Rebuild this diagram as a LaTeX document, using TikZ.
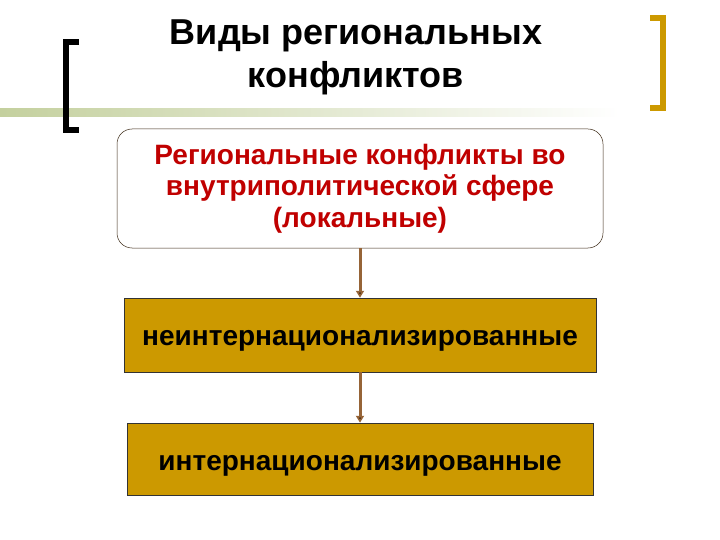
\documentclass[tikz,border=0pt]{standalone}
\usepackage{fontspec}
\setmainfont{Liberation Sans}
\usepackage{tikz}
\usetikzlibrary{arrows.meta,positioning,shapes}
\definecolor{gold}{RGB}{204,153,0}
\definecolor{darkred}{RGB}{192,0,0}
\definecolor{arrbrown}{RGB}{150,100,55}
\definecolor{olive}{RGB}{196,208,158}
\tikzset{every picture/.style={line width=0.5pt}}
\tikzstyle{topbox}=[draw=black!70!brown,fill=white,rounded corners=15pt,
  minimum width=486pt,minimum height=119pt,inner sep=0pt,align=center,
  text=darkred,font=\fontsize{28}{31.5}\selectfont\bfseries]
\tikzstyle{goldbox}=[draw=black!80,fill=gold,inner sep=0pt,text depth=0pt,
  font=\fontsize{28}{30}\selectfont\bfseries]

\begin{document}
\begin{tikzpicture}[x=1pt,y=-1pt]
\useasboundingbox (0,0) rectangle (720,540);
% green rule under the title
\shade[left color=olive,right color=white] (0,108.5) rectangle (620,117);
% brackets
\draw[line width=6pt,miter limit=10] (79,42) -- (66,42) -- (66,130) -- (79,130);
\draw[gold,line width=6pt,miter limit=10] (650,18) -- (663,18) -- (663,108) -- (650,108);
\node (T) at (356,88) [anchor=base,align=center,font=\fontsize{36}{43}\selectfont\bfseries]
  {Виды региональных\\конфликтов};
\node[topbox] (A) at (360,188.5)
  {Региональные конфликты во\\внутриполитической сфере\\(локальные)};
\node[goldbox,minimum width=472pt,minimum height=74pt,text height=20pt] (B) at (360,335)
  {неинтернационализированные};
\node[goldbox,minimum width=466pt,minimum height=72pt,text height=22pt] (C) at (360,459)
  {интернационализированные};
\path[-{Triangle[length=7pt,width=8pt]},draw=arrbrown,line width=3pt]
(A) edge (B)
(B) edge (C);
\end{tikzpicture}
\end{document}
